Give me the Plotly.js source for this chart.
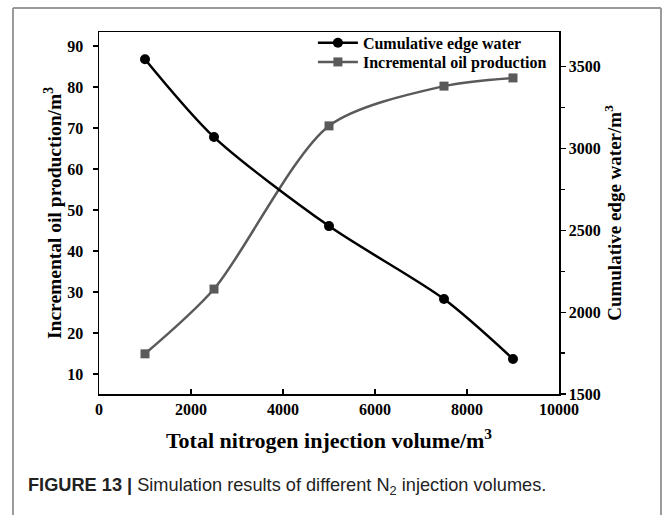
<!DOCTYPE html>
<html>
<head>
<meta charset="utf-8">
<script src="https://cdn.plot.ly/plotly-3.0.1.min.js"></script>
<style>
  html, body { margin: 0; padding: 0; background: #fff; }
  #chart { width: 663px; height: 515px; }
</style>
</head>
<body>
<div id="chart"></div>
<script>
// Nitrogen injection volumes (m^3)
const injectionVolume = [1000, 2500, 5000, 7500, 9000];
// Cumulative edge water (m^3), right axis
const edgeWater = [3546, 3070, 2526, 2080, 1714];
// Incremental oil production (m^3), left axis
const oilProduction = [14.9, 30.7, 70.5, 80.2, 82.2];

// Axis tick values and labels
const xTicks = [0, 2000, 4000, 6000, 8000, 10000];
const xTickText = ['0', '2000', '4000', '6000', '8000', '10000'];
const oilTicks = [10, 20, 30, 40, 50, 60, 70, 80, 90];
const waterTicks = [1500, 2000, 2500, 3000, 3500];

const serif = '"Liberation Serif", "Times New Roman", serif';

const traces = [
  {
    x: injectionVolume,
    y: edgeWater,
    name: 'Cumulative edge water',
    yaxis: 'y2',
    legend: 'legend',
    mode: 'lines+markers',
    line: { color: '#000000', width: 2.5, shape: 'spline', smoothing: 0.8 },
    marker: { symbol: 'circle', size: 10, color: '#000000' }
  },
  {
    x: injectionVolume,
    y: oilProduction,
    name: 'Incremental oil production',
    yaxis: 'y',
    legend: 'legend2',
    mode: 'lines+markers',
    line: { color: '#5a5a5a', width: 2.5, shape: 'spline', smoothing: 0.8 },
    marker: { symbol: 'square', size: 9, color: '#5a5a5a' }
  }
];

const tickFont = { family: serif, size: 16, color: '#000', weight: 'bold' };
const legendFont = { family: serif, size: 16, color: '#000', weight: 'bold' };

const axisCommon = {
  showgrid: false,
  zeroline: false,
  showline: true,
  linecolor: '#000',
  linewidth: 1.5,
  ticklen: 5,
  tickwidth: 1.2,
  tickcolor: '#000',
  tickfont: tickFont
};

const legendCommon = {
  xanchor: 'left', yanchor: 'top',
  bgcolor: 'rgba(0,0,0,0)',
  font: legendFont,
  itemwidth: 40
};

const layout = {
  width: 663,
  height: 515,
  margin: { l: 99, r: 104, t: 32, b: 121 },
  paper_bgcolor: '#fff',
  plot_bgcolor: '#fff',
  showlegend: true,
  legend: Object.assign({}, legendCommon, { x: 0.465, y: 1.017 }),
  legend2: Object.assign({}, legendCommon, { x: 0.465, y: 0.964 }),
  xaxis: Object.assign({}, axisCommon, {
    range: [0, 10000],
    tickvals: xTicks,
    ticktext: xTickText,
    ticks: 'inside',
    mirror: true,
    title: {
      text: 'Total nitrogen injection volume/m<sup>3</sup>',
      font: { family: serif, size: 22, color: '#000', weight: 'bold' },
      standoff: 16
    }
  }),
  yaxis: Object.assign({}, axisCommon, {
    range: [5.1, 93.4],
    tickvals: oilTicks,
    ticks: 'outside',
    ticklabelstandoff: 6,
    mirror: true,
    title: {
      text: 'Incremental oil production/m<sup>3</sup>',
      font: { family: serif, size: 19.5, color: '#000', weight: 'bold' },
      standoff: 0
    }
  }),
  yaxis2: Object.assign({}, axisCommon, {
    overlaying: 'y',
    side: 'right',
    range: [1500, 3712],
    tickvals: waterTicks,
    ticks: 'outside',
    minor: { dtick: 250, ticks: 'outside', ticklen: 4, tickcolor: '#000', tickwidth: 1.2 },
    title: {
      text: 'Cumulative edge water/m<sup>3</sup>',
      font: { family: serif, size: 19, color: '#000', weight: 'bold' },
      standoff: 2
    }
  }),
  shapes: [
    // figure frame
    { type: 'line', xref: 'paper', yref: 'paper', x0: -0.187, x1: 1.2217, y0: 1.0663, y1: 1.0663,
      line: { color: '#9a9a9a', width: 2 } },
    { type: 'line', xref: 'paper', yref: 'paper', x0: -0.187, x1: -0.187, y0: 1.0663, y1: -0.34,
      line: { color: '#9a9a9a', width: 2 } },
    { type: 'line', xref: 'paper', yref: 'paper', x0: 1.2217, x1: 1.2217, y0: 1.0663, y1: -0.34,
      line: { color: '#9a9a9a', width: 2 } }
  ],
  annotations: [
    {
      xref: 'paper', yref: 'paper', x: -0.158, y: -0.255,
      xanchor: 'left', yanchor: 'middle', showarrow: false,
      text: '<b>FIGURE 13 |</b> Simulation results of different N<sub>2</sub> injection volumes.',
      font: { family: '"Liberation Sans", Arial, sans-serif', size: 18.2, color: '#222' }
    }
  ]
};

Plotly.newPlot('chart', traces, layout, { displayModeBar: false, staticPlot: true });
</script>
</body>
</html>
